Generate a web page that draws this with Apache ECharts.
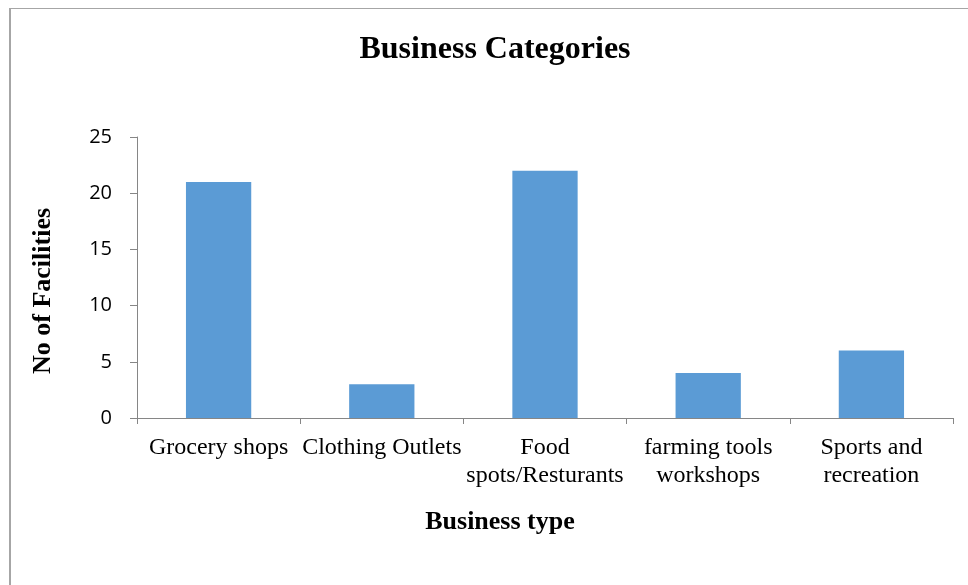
<!DOCTYPE html>
<html><head><meta charset="utf-8">
<script src="https://cdn.jsdelivr.net/npm/echarts@6/dist/echarts.min.js"></script>
<style>html,body{margin:0;padding:0;background:#fff}#c{width:968px;height:585px}</style>
</head><body><div id="c"></div>
<script>
const categories = ['Grocery shops', 'Clothing Outlets', 'Food\nspots/Resturants', 'farming tools\nworkshops', 'Sports and\nrecreation'];
const values = [21, 3, 22, 4, 6];
const yTicks = [0, 5, 10, 15, 20, 25];

const chart = echarts.init(document.getElementById('c'), null, {renderer: 'canvas'});
const serif = '"Liberation Serif", "Times New Roman", serif';
chart.setOption({
  animation: false,
  backgroundColor: '#fff',
  title: {
    text: 'Business Categories', left: 490, top: 29, textAlign: 'center',
    textStyle: {fontFamily: serif, fontWeight: 'bold', fontSize: 32, color: '#000'}
  },
  graphic: [
    {type: 'line', shape: {x1: 10, y1: 8.5, x2: 968, y2: 8.5}, style: {stroke: '#a6a6a6', lineWidth: 1}},
    {type: 'line', shape: {x1: 10, y1: 8, x2: 10, y2: 585}, style: {stroke: '#a6a6a6', lineWidth: 2}}
  ],
  grid: {left: 137, right: 15, top: 137, bottom: 167, containLabel: false},
  xAxis: {
    type: 'category', data: categories,
    name: 'Business type', nameLocation: 'middle', nameGap: 91,
    nameTextStyle: {fontFamily: serif, fontWeight: 'bold', fontSize: 26, color: '#000', padding: [0, 90, 0, 0]},
    axisLine: {lineStyle: {color: '#868686', width: 1}},
    axisTick: {show: true, length: 6, lineStyle: {color: '#868686'}},
    axisLabel: {fontFamily: serif, fontSize: 24, color: '#000', margin: 16, lineHeight: 28, interval: 0}
  },
  yAxis: {
    type: 'value', min: 0, max: 25, interval: 5,
    name: 'No of Facilities', nameLocation: 'middle', nameGap: 81, nameRotate: 90,
    nameTextStyle: {fontFamily: serif, fontWeight: 'bold', fontSize: 26, color: '#000', padding: [0, 27, 0, 0]},
    axisLine: {show: true, lineStyle: {color: '#868686', width: 1}},
    axisTick: {show: true, length: 7, lineStyle: {color: '#868686'}},
    splitLine: {show: false},
    axisLabel: {fontFamily: '"Open Sans", "Liberation Sans", sans-serif', fontSize: 20, color: '#000', margin: 25,
      formatter: v => yTicks.includes(v) ? String(v) : ''}
  },
  series: [{
    type: 'bar', data: values, barWidth: '40%',
    itemStyle: {color: '#5b9bd5'}
  }]
});
</script></body></html>
